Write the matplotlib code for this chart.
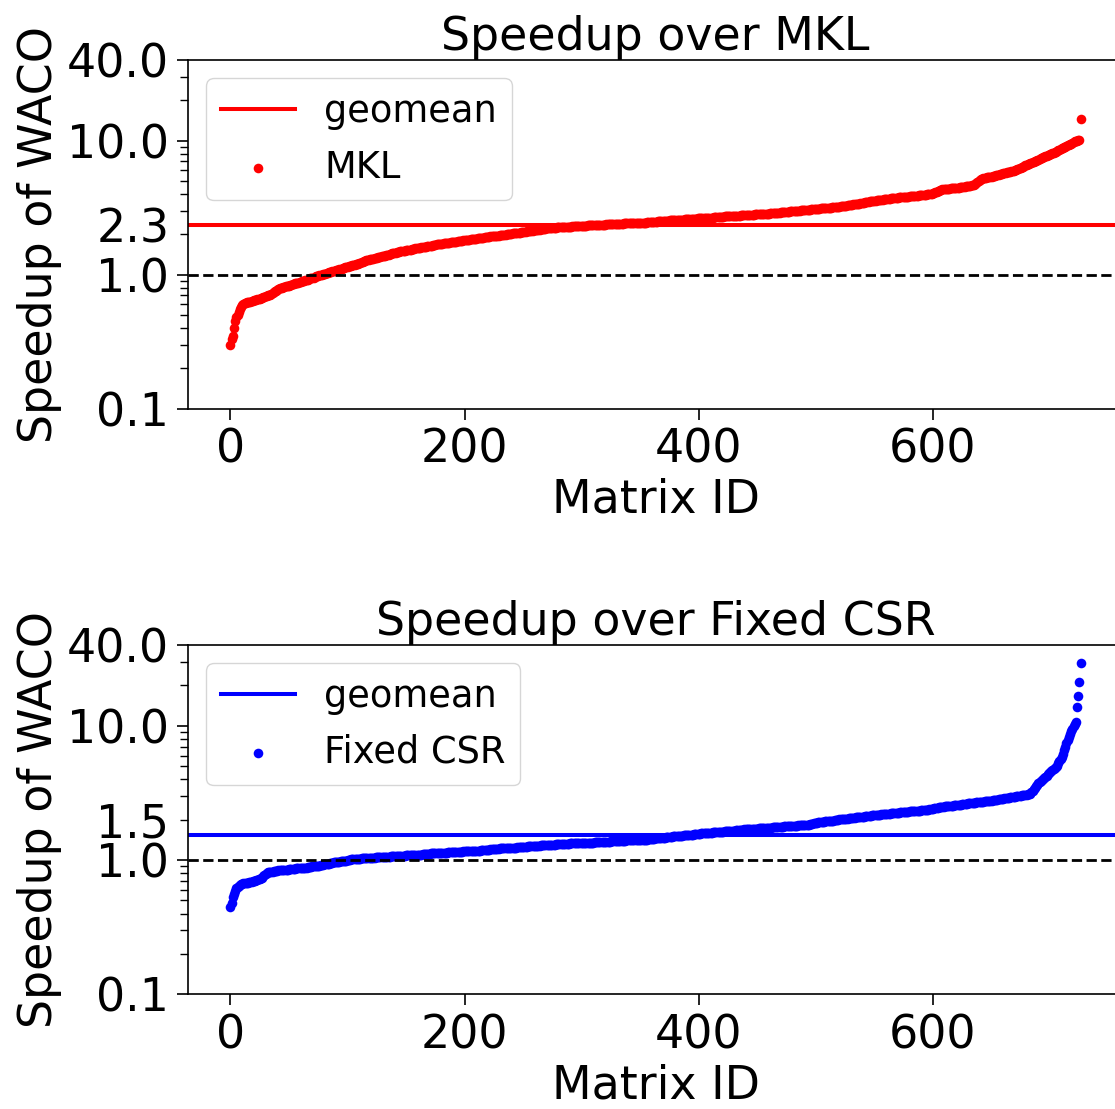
import numpy as np
import matplotlib
matplotlib.use("Agg")
from matplotlib import pyplot as plt
from matplotlib.ticker import NullFormatter
from matplotlib.transforms import ScaledTranslation

# WACO speedup over MKL, sorted (one value per matrix)
mkl_speedup = [
    0.30, 0.33, 0.35, 0.40, 0.45, 0.48, 0.50, 0.53, 0.55, 0.57, 0.59, 0.60, 0.61, 0.61, 0.62, 0.62, 0.63, 0.63, 0.64, 0.64,
    0.65, 0.65, 0.65, 0.66, 0.66, 0.66, 0.67, 0.67, 0.68, 0.68, 0.69, 0.69, 0.70, 0.70, 0.71, 0.72, 0.73, 0.74, 0.75, 0.76,
    0.77, 0.78, 0.79, 0.80, 0.80, 0.81, 0.81, 0.82, 0.82, 0.83, 0.83, 0.84, 0.84, 0.85, 0.85, 0.86, 0.86, 0.87, 0.87, 0.88,
    0.88, 0.89, 0.90, 0.90, 0.91, 0.92, 0.92, 0.93, 0.94, 0.94, 0.95, 0.95, 0.96, 0.97, 0.97, 0.98, 0.99, 1.00, 1.00, 1.01,
    1.02, 1.02, 1.03, 1.03, 1.04, 1.05, 1.05, 1.06, 1.07, 1.07, 1.08, 1.09, 1.09, 1.10, 1.11, 1.11, 1.12, 1.13, 1.14, 1.14,
    1.15, 1.16, 1.16, 1.17, 1.18, 1.19, 1.19, 1.20, 1.21, 1.21, 1.22, 1.23, 1.24, 1.25, 1.26, 1.27, 1.28, 1.29, 1.29, 1.30,
    1.31, 1.32, 1.32, 1.33, 1.34, 1.34, 1.35, 1.36, 1.36, 1.37, 1.38, 1.39, 1.39, 1.40, 1.41, 1.41, 1.42, 1.43, 1.44, 1.44,
    1.45, 1.46, 1.47, 1.47, 1.48, 1.49, 1.49, 1.50, 1.51, 1.51, 1.52, 1.52, 1.53, 1.54, 1.54, 1.55, 1.55, 1.56, 1.57, 1.57,
    1.58, 1.59, 1.59, 1.60, 1.60, 1.61, 1.62, 1.62, 1.63, 1.63, 1.64, 1.65, 1.65, 1.66, 1.67, 1.67, 1.68, 1.68, 1.69, 1.69,
    1.70, 1.70, 1.71, 1.71, 1.72, 1.72, 1.73, 1.73, 1.74, 1.74, 1.75, 1.75, 1.76, 1.76, 1.77, 1.77, 1.78, 1.78, 1.79, 1.80,
    1.81, 1.81, 1.82, 1.83, 1.83, 1.84, 1.84, 1.85, 1.85, 1.86, 1.86, 1.87, 1.87, 1.88, 1.88, 1.89, 1.89, 1.90, 1.90, 1.91,
    1.92, 1.92, 1.93, 1.93, 1.94, 1.94, 1.95, 1.95, 1.96, 1.96, 1.97, 1.97, 1.98, 1.98, 1.99, 1.99, 2.00, 2.00, 2.01, 2.02,
    2.02, 2.03, 2.03, 2.04, 2.05, 2.05, 2.06, 2.06, 2.07, 2.07, 2.08, 2.09, 2.09, 2.10, 2.11, 2.11, 2.12, 2.13, 2.13, 2.14,
    2.15, 2.15, 2.16, 2.17, 2.17, 2.18, 2.19, 2.19, 2.20, 2.21, 2.22, 2.22, 2.22, 2.23, 2.23, 2.23, 2.24, 2.24, 2.24, 2.25,
    2.25, 2.25, 2.26, 2.26, 2.26, 2.27, 2.27, 2.27, 2.28, 2.28, 2.28, 2.28, 2.29, 2.29, 2.29, 2.30, 2.30, 2.30, 2.31, 2.31,
    2.31, 2.31, 2.32, 2.32, 2.32, 2.33, 2.33, 2.33, 2.33, 2.34, 2.34, 2.34, 2.35, 2.35, 2.35, 2.35, 2.36, 2.36, 2.36, 2.36,
    2.36, 2.37, 2.37, 2.37, 2.37, 2.38, 2.38, 2.38, 2.38, 2.39, 2.39, 2.39, 2.40, 2.40, 2.40, 2.40, 2.41, 2.41, 2.41, 2.42,
    2.42, 2.42, 2.42, 2.43, 2.43, 2.43, 2.43, 2.44, 2.44, 2.44, 2.44, 2.45, 2.45, 2.45, 2.45, 2.45, 2.46, 2.46, 2.46, 2.47,
    2.47, 2.48, 2.48, 2.49, 2.49, 2.50, 2.50, 2.51, 2.51, 2.51, 2.52, 2.52, 2.53, 2.53, 2.53, 2.54, 2.54, 2.54, 2.55, 2.55,
    2.55, 2.56, 2.56, 2.57, 2.57, 2.57, 2.58, 2.58, 2.59, 2.59, 2.59, 2.60, 2.60, 2.60, 2.61, 2.61, 2.62, 2.62, 2.62, 2.63,
    2.63, 2.63, 2.63, 2.64, 2.64, 2.64, 2.64, 2.65, 2.65, 2.66, 2.66, 2.67, 2.67, 2.68, 2.68, 2.69, 2.69, 2.70, 2.70, 2.71,
    2.71, 2.71, 2.72, 2.72, 2.72, 2.73, 2.73, 2.73, 2.74, 2.74, 2.74, 2.75, 2.75, 2.76, 2.76, 2.76, 2.77, 2.77, 2.78, 2.78,
    2.78, 2.79, 2.79, 2.80, 2.80, 2.80, 2.81, 2.81, 2.82, 2.82, 2.82, 2.83, 2.83, 2.84, 2.84, 2.84, 2.85, 2.85, 2.86, 2.86,
    2.86, 2.87, 2.87, 2.88, 2.88, 2.89, 2.89, 2.90, 2.91, 2.91, 2.92, 2.92, 2.93, 2.94, 2.94, 2.95, 2.96, 2.96, 2.97, 2.98,
    2.98, 2.99, 2.99, 3.00, 3.00, 3.01, 3.01, 3.02, 3.02, 3.03, 3.03, 3.04, 3.04, 3.05, 3.05, 3.06, 3.07, 3.07, 3.08, 3.09,
    3.09, 3.10, 3.10, 3.11, 3.12, 3.12, 3.13, 3.13, 3.14, 3.15, 3.15, 3.16, 3.16, 3.17, 3.18, 3.18, 3.19, 3.19, 3.20, 3.21,
    3.22, 3.23, 3.24, 3.25, 3.26, 3.27, 3.28, 3.29, 3.30, 3.31, 3.32, 3.33, 3.34, 3.35, 3.36, 3.37, 3.38, 3.39, 3.40, 3.41,
    3.42, 3.44, 3.46, 3.48, 3.50, 3.51, 3.52, 3.53, 3.54, 3.55, 3.56, 3.57, 3.58, 3.59, 3.60, 3.61, 3.62, 3.63, 3.65, 3.66,
    3.67, 3.68, 3.69, 3.70, 3.71, 3.72, 3.72, 3.73, 3.74, 3.75, 3.76, 3.77, 3.78, 3.78, 3.79, 3.80, 3.81, 3.81, 3.82, 3.83,
    3.84, 3.84, 3.85, 3.86, 3.87, 3.87, 3.88, 3.89, 3.90, 3.91, 3.92, 3.93, 3.94, 3.95, 3.96, 3.97, 3.98, 3.99, 4.01, 4.03,
    4.05, 4.08, 4.12, 4.16, 4.20, 4.24, 4.28, 4.31, 4.33, 4.34, 4.35, 4.36, 4.37, 4.38, 4.39, 4.40, 4.41, 4.42, 4.43, 4.44,
    4.45, 4.46, 4.47, 4.48, 4.50, 4.51, 4.52, 4.53, 4.55, 4.56, 4.58, 4.59, 4.61, 4.63, 4.65, 4.67, 4.72, 4.80, 4.90, 5.00,
    5.08, 5.14, 5.19, 5.23, 5.27, 5.30, 5.32, 5.34, 5.36, 5.38, 5.40, 5.43, 5.46, 5.49, 5.52, 5.55, 5.58, 5.61, 5.64, 5.67,
    5.70, 5.73, 5.76, 5.79, 5.82, 5.85, 5.88, 5.91, 5.94, 5.97, 6.00, 6.05, 6.10, 6.16, 6.22, 6.28, 6.34, 6.40, 6.46, 6.53,
    6.60, 6.66, 6.72, 6.78, 6.84, 6.90, 6.96, 7.02, 7.09, 7.16, 7.23, 7.30, 7.40, 7.46, 7.52, 7.58, 7.64, 7.70, 7.76, 7.83,
    7.90, 7.98, 8.06, 8.14, 8.22, 8.30, 8.39, 8.48, 8.58, 8.68, 8.75, 8.84, 8.93, 9.02, 9.12, 9.22, 9.32, 9.42, 9.52, 9.64,
    9.76, 9.86, 9.94, 10.02, 10.10, 10.20, 14.6,
]

# WACO speedup over Fixed CSR, sorted
csr_speedup = [
    0.45, 0.48, 0.53, 0.56, 0.59, 0.62, 0.63, 0.64, 0.65, 0.66, 0.66, 0.67, 0.67, 0.68, 0.68, 0.68, 0.69, 0.69, 0.69, 0.70,
    0.70, 0.70, 0.71, 0.71, 0.72, 0.72, 0.73, 0.74, 0.76, 0.77, 0.79, 0.80, 0.81, 0.81, 0.82, 0.82, 0.82, 0.83, 0.83, 0.83,
    0.83, 0.84, 0.84, 0.84, 0.84, 0.85, 0.85, 0.85, 0.85, 0.85, 0.86, 0.86, 0.86, 0.86, 0.86, 0.86, 0.87, 0.87, 0.87, 0.87,
    0.87, 0.87, 0.88, 0.88, 0.88, 0.88, 0.89, 0.89, 0.89, 0.89, 0.90, 0.90, 0.90, 0.90, 0.91, 0.91, 0.91, 0.92, 0.92, 0.92,
    0.93, 0.93, 0.93, 0.94, 0.94, 0.95, 0.95, 0.95, 0.96, 0.96, 0.96, 0.97, 0.97, 0.97, 0.98, 0.98, 0.98, 0.99, 0.99, 0.99,
    1.00, 1.00, 1.00, 1.01, 1.01, 1.01, 1.01, 1.02, 1.02, 1.02, 1.02, 1.02, 1.03, 1.03, 1.03, 1.03, 1.03, 1.03, 1.04, 1.04,
    1.04, 1.04, 1.04, 1.04, 1.05, 1.05, 1.05, 1.05, 1.05, 1.05, 1.05, 1.06, 1.06, 1.06, 1.06, 1.06, 1.06, 1.07, 1.07, 1.07,
    1.07, 1.07, 1.07, 1.08, 1.08, 1.08, 1.08, 1.08, 1.08, 1.08, 1.09, 1.09, 1.09, 1.09, 1.09, 1.09, 1.09, 1.09, 1.10, 1.10,
    1.10, 1.10, 1.10, 1.10, 1.11, 1.11, 1.11, 1.11, 1.11, 1.11, 1.11, 1.12, 1.12, 1.12, 1.12, 1.12, 1.12, 1.12, 1.13, 1.13,
    1.13, 1.13, 1.13, 1.13, 1.13, 1.13, 1.14, 1.14, 1.14, 1.14, 1.14, 1.14, 1.15, 1.15, 1.15, 1.15, 1.15, 1.15, 1.15, 1.16,
    1.16, 1.16, 1.16, 1.16, 1.16, 1.16, 1.17, 1.17, 1.17, 1.17, 1.17, 1.17, 1.17, 1.17, 1.18, 1.18, 1.18, 1.18, 1.19, 1.19,
    1.19, 1.19, 1.20, 1.20, 1.20, 1.20, 1.21, 1.21, 1.21, 1.21, 1.22, 1.22, 1.22, 1.22, 1.22, 1.23, 1.23, 1.23, 1.23, 1.23,
    1.23, 1.24, 1.24, 1.24, 1.24, 1.25, 1.25, 1.25, 1.25, 1.26, 1.26, 1.26, 1.26, 1.26, 1.27, 1.27, 1.27, 1.27, 1.27, 1.28,
    1.28, 1.28, 1.28, 1.28, 1.28, 1.29, 1.29, 1.29, 1.29, 1.29, 1.29, 1.29, 1.30, 1.30, 1.30, 1.30, 1.30, 1.30, 1.31, 1.31,
    1.31, 1.31, 1.31, 1.31, 1.32, 1.32, 1.32, 1.32, 1.32, 1.32, 1.33, 1.33, 1.33, 1.33, 1.33, 1.33, 1.34, 1.34, 1.34, 1.34,
    1.34, 1.34, 1.34, 1.35, 1.35, 1.35, 1.35, 1.35, 1.35, 1.35, 1.35, 1.36, 1.36, 1.36, 1.36, 1.36, 1.36, 1.36, 1.37, 1.37,
    1.37, 1.37, 1.37, 1.37, 1.37, 1.38, 1.38, 1.38, 1.38, 1.38, 1.38, 1.38, 1.39, 1.39, 1.39, 1.39, 1.39, 1.39, 1.40, 1.40,
    1.40, 1.40, 1.40, 1.40, 1.40, 1.41, 1.41, 1.41, 1.41, 1.41, 1.41, 1.41, 1.42, 1.42, 1.42, 1.42, 1.42, 1.43, 1.43, 1.43,
    1.44, 1.44, 1.44, 1.45, 1.45, 1.45, 1.46, 1.46, 1.46, 1.47, 1.47, 1.47, 1.48, 1.48, 1.48, 1.49, 1.49, 1.49, 1.50, 1.50,
    1.50, 1.51, 1.51, 1.51, 1.52, 1.52, 1.52, 1.53, 1.53, 1.53, 1.54, 1.54, 1.54, 1.55, 1.55, 1.55, 1.56, 1.56, 1.56, 1.57,
    1.57, 1.57, 1.58, 1.58, 1.58, 1.58, 1.59, 1.59, 1.59, 1.60, 1.60, 1.60, 1.61, 1.61, 1.61, 1.62, 1.62, 1.62, 1.63, 1.63,
    1.63, 1.63, 1.64, 1.64, 1.64, 1.65, 1.65, 1.65, 1.66, 1.66, 1.66, 1.66, 1.67, 1.67, 1.67, 1.67, 1.68, 1.68, 1.68, 1.69,
    1.69, 1.69, 1.69, 1.70, 1.70, 1.70, 1.70, 1.71, 1.71, 1.71, 1.71, 1.72, 1.72, 1.72, 1.72, 1.73, 1.73, 1.73, 1.73, 1.74,
    1.74, 1.74, 1.74, 1.75, 1.75, 1.75, 1.76, 1.76, 1.76, 1.76, 1.77, 1.77, 1.77, 1.78, 1.78, 1.78, 1.78, 1.79, 1.79, 1.79,
    1.79, 1.80, 1.80, 1.80, 1.80, 1.81, 1.81, 1.81, 1.81, 1.82, 1.82, 1.82, 1.82, 1.83, 1.84, 1.85, 1.86, 1.87, 1.88, 1.89,
    1.90, 1.90, 1.91, 1.91, 1.92, 1.92, 1.93, 1.93, 1.94, 1.94, 1.95, 1.95, 1.96, 1.96, 1.97, 1.97, 1.98, 1.98, 1.99, 2.00,
    2.01, 2.01, 2.02, 2.02, 2.03, 2.03, 2.04, 2.04, 2.05, 2.05, 2.06, 2.06, 2.07, 2.07, 2.08, 2.08, 2.09, 2.09, 2.10, 2.10,
    2.11, 2.11, 2.12, 2.12, 2.13, 2.13, 2.14, 2.14, 2.15, 2.15, 2.16, 2.16, 2.17, 2.17, 2.18, 2.18, 2.19, 2.19, 2.20, 2.20,
    2.21, 2.21, 2.22, 2.22, 2.23, 2.23, 2.24, 2.24, 2.25, 2.25, 2.26, 2.26, 2.27, 2.27, 2.28, 2.28, 2.29, 2.29, 2.30, 2.30,
    2.31, 2.31, 2.32, 2.32, 2.33, 2.33, 2.33, 2.34, 2.34, 2.34, 2.35, 2.35, 2.35, 2.36, 2.36, 2.37, 2.38, 2.39, 2.40, 2.41,
    2.42, 2.43, 2.44, 2.45, 2.46, 2.47, 2.48, 2.49, 2.50, 2.50, 2.51, 2.51, 2.52, 2.52, 2.53, 2.53, 2.54, 2.54, 2.55, 2.55,
    2.56, 2.57, 2.57, 2.58, 2.59, 2.60, 2.61, 2.62, 2.63, 2.63, 2.64, 2.64, 2.65, 2.66, 2.66, 2.67, 2.68, 2.69, 2.70, 2.71,
    2.72, 2.72, 2.73, 2.73, 2.74, 2.74, 2.75, 2.75, 2.76, 2.76, 2.77, 2.78, 2.79, 2.80, 2.81, 2.82, 2.83, 2.84, 2.85, 2.86,
    2.87, 2.88, 2.89, 2.90, 2.91, 2.92, 2.93, 2.94, 2.95, 2.96, 2.97, 2.98, 2.99, 3.00, 3.01, 3.02, 3.03, 3.04, 3.05, 3.06,
    3.07, 3.09, 3.11, 3.13, 3.20, 3.28, 3.36, 3.45, 3.54, 3.63, 3.72, 3.80, 3.88, 3.95, 4.02, 4.10, 4.18, 4.26, 4.34, 4.42,
    4.50, 4.58, 4.66, 4.74, 4.82, 4.90, 5.05, 5.25, 5.45, 5.65, 5.85, 6.20, 6.60, 7.00, 7.40, 7.80, 8.25, 8.70, 9.10, 9.50,
    9.90, 10.30, 10.6, 13.8, 16.7, 21.2, 29.3,
]

series_names = ["MKL", "Fixed CSR"]
series_colors = ["red", "blue"]
geomeans = [2.34, 1.53]
geomean_labels = ["2.3", "1.5"]
geomean_label_y = [2.34, 2.0]   # bottom label nudged up so it clears "1.0"

ytick_values = [0.1, 1.0, 10.0, 40.0]
ytick_labels = ["0.1", "1.0", "10.0", "40.0"]

FS = 33
plt.rcParams['font.size'] = FS

fig = plt.figure(figsize=(11.15, 11.09), dpi=100)
ax_top = fig.add_axes([0.1686, 0.6315, 0.8386, 0.3144])
ax_bot = fig.add_axes([0.1686, 0.1034, 0.8386, 0.3150])

all_series = [mkl_speedup, csr_speedup]
for i, ax in enumerate([ax_top, ax_bot]):
    vals = np.array(all_series[i])
    ids = np.arange(len(vals))
    color = series_colors[i]

    ax.axhline(geomeans[i], color=color, lw=2.9, label="geomean")
    ax.scatter(ids, vals, s=48, color=color, linewidths=0, label=series_names[i])
    ax.axhline(1.0, color="black", linestyle="--", lw=2.0)

    ax.set_yscale("log")
    ax.set_ylim(0.1, 40)
    ax.set_yticks(ytick_values, labels=ytick_labels)
    ax.yaxis.set_minor_formatter(NullFormatter())
    ax.set_xticks([0, 200, 400, 600])

    ax.tick_params(which="major", length=8, width=1.2, pad=5.5, labelsize=FS)
    ax.tick_params(which="minor", length=5.5, width=1.0)
    for sp in ax.spines.values():
        sp.set_linewidth(1.2)

    # geomean value written next to the axis like a tick label
    offs = ScaledTranslation(-(8 + 5.5) / 72, 0, fig.dpi_scale_trans)
    ax.text(0, geomean_label_y[i], geomean_labels[i], transform=ax.get_yaxis_transform() + offs,
            ha="right", va="center_baseline", fontsize=FS)

    ax.set_xlabel("Matrix ID", fontsize=FS)
    ax.set_ylabel("Speedup of WACO", fontsize=FS)
    ax.set_title("Speedup over " + series_names[i], fontsize=FS)
    ax.legend(loc="upper left", fontsize=26.5, borderaxespad=0.5)

fig.savefig("out.png", dpi=100)
